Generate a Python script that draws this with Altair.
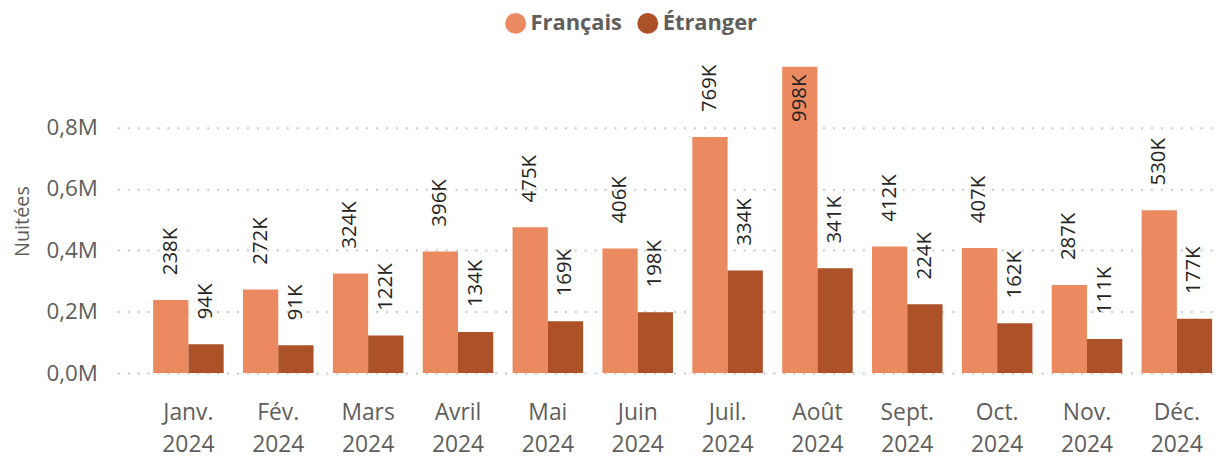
import altair as alt
import pandas as pd

months = ["Janv.", "Fév.", "Mars", "Avril", "Mai", "Juin", "Juil.", "Août",
          "Sept.", "Oct.", "Nov.", "Déc."]
year = "2024"
series = ["Français", "Étranger"]
francais = [238, 272, 324, 396, 475, 406, 769, 998, 412, 407, 287, 530]
etranger = [94, 91, 122, 134, 169, 198, 334, 341, 224, 162, 111, 177]
colors = ["#EB8A60", "#AD5129"]
y_ticks = [0, 200000, 400000, 600000, 800000]

cats = [f"{m} {year}" for m in months]
rows = []
for c, f, e in zip(cats, francais, etranger):
    rows.append({"mois": c, "serie": series[0], "v": f * 1000})
    rows.append({"mois": c, "serie": series[1], "v": e * 1000})
df = pd.DataFrame(rows)

FONT = "Segoe UI, Open Sans, sans-serif"

base = alt.Chart(df).encode(
    x=alt.X("mois:N", sort=cats,
            scale=alt.Scale(paddingInner=0.215, paddingOuter=0.21, align=0.95),
            axis=alt.Axis(title=None, labelAngle=0, labelExpr="split(datum.label, ' ')",
                          labelFont=FONT, labelFontSize=23, labelColor="#605E5C",
                          labelLineHeight=32, labelPadding=29, ticks=False,
                          domain=False, grid=False)),
    xOffset=alt.XOffset("serie:N", sort=series, scale=alt.Scale(domain=series)),
    y=alt.Y("v:Q", scale=alt.Scale(domain=[0, 990000], nice=False),
            axis=alt.Axis(title="Nuitées", values=y_ticks,
                          labelExpr="replace(format(datum.value/1000000, '.1f'), '.', ',') + 'M'",
                          labelFont=FONT, labelFontSize=22.5, labelColor="#605E5C",
                          labelPadding=20, ticks=False, domain=False,
                          titleFont=FONT, titleFontSize=20, titleFontWeight="normal",
                          titleColor="#605E5C", titlePadding=14,
                          grid=True, gridColor="#C8C8C8", gridDash=[2, 8], gridWidth=2)),
)

bars = base.mark_bar().encode(
    color=alt.Color("serie:N", sort=series,
                    scale=alt.Scale(domain=series, range=colors),
                    legend=alt.Legend(title=None, orient="none", direction="horizontal",
                                      legendX=390, legendY=-57,
                                      symbolType="circle", symbolSize=440,
                                      symbolStrokeWidth=0, symbolOpacity=1,
                                      labelFont=FONT, labelFontSize=22,
                                      labelFontWeight="bold", labelColor="#605E5C",
                                      labelOffset=4, columnPadding=14))
)

lab = base.transform_calculate(
    lbl="format(datum.v/1000, '.0f') + 'K'"
)

above = lab.transform_filter("datum.v < 900000").mark_text(
    angle=270, align="left", baseline="middle", dx=25,
    font=FONT, fontSize=20.5, color="#252423"
).encode(text="lbl:N")

inside = lab.transform_filter("datum.v >= 900000").mark_text(
    angle=270, align="right", baseline="middle", dx=-8,
    font=FONT, fontSize=20.5, color="#252423"
).encode(text="lbl:N")

chart = alt.layer(bars, above, inside).properties(
    width=1104, height=306,
    autosize=alt.AutoSizeParams(type="none"),
    padding={"left": 110, "top": 60, "right": 5, "bottom": 84},
).configure_view(stroke=None)

chart.save("out.html", embed_options={"renderer": "svg", "actions": False})
